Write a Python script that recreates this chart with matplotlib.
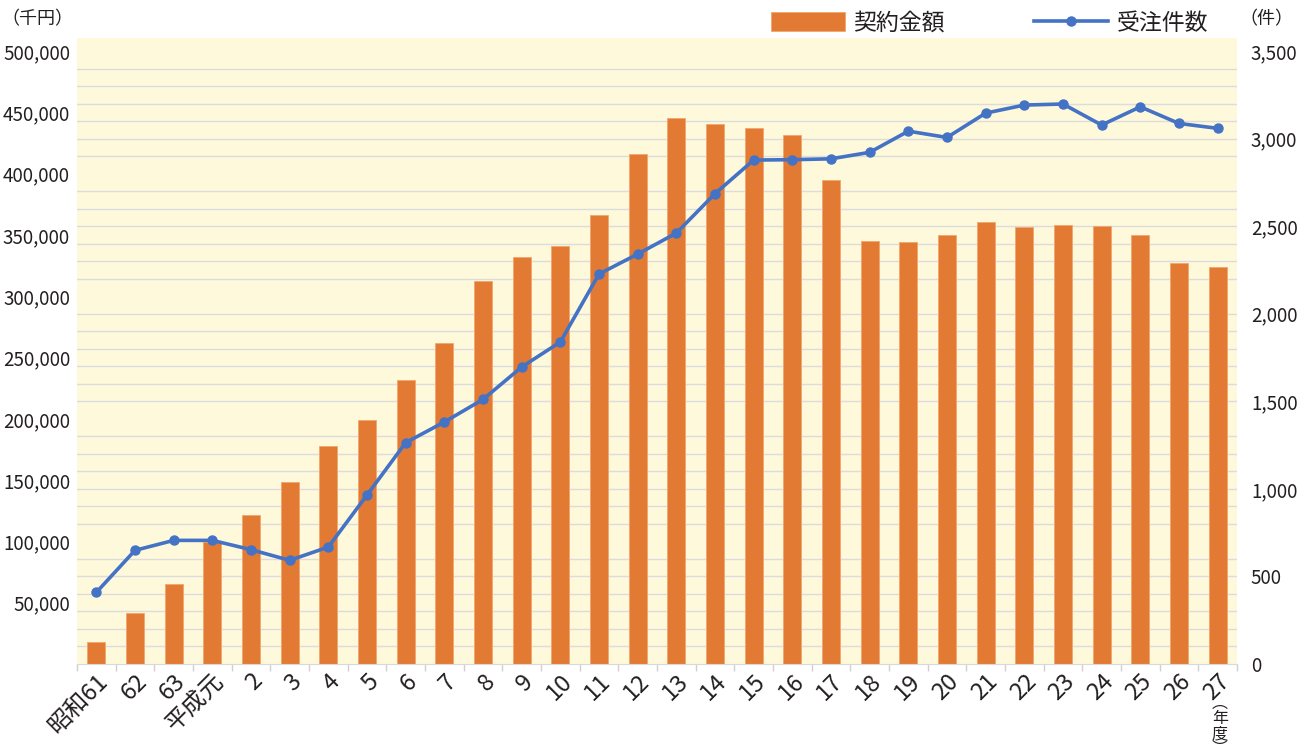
import numpy as np
import matplotlib
matplotlib.use("Agg")
import matplotlib.pyplot as plt
from matplotlib.ticker import FuncFormatter

plt.rcParams['font.family'] = ['Noto Sans CJK JP', 'DejaVu Sans']

years = ['昭和61', '62', '63', '平成元', '2', '3', '4', '5', '6', '7', '8', '9', '10',
         '11', '12', '13', '14', '15', '16', '17', '18', '19', '20', '21', '22', '23',
         '24', '25', '26', '27']
# 契約金額 (千円)
amounts = [17700, 41600, 65300, 99300, 121500, 148700, 178100, 199300, 231700, 261600,
           312700, 332000, 340700, 366200, 415700, 445400, 440500, 437500, 431500, 394500,
           345000, 344000, 349900, 360300, 356700, 358300, 357500, 350200, 326800, 323800]
# 受注件数 (件)
orders = [409, 649, 706, 706, 653, 592, 668, 965, 1264, 1382, 1511, 1696, 1839, 2227,
          2341, 2461, 2686, 2878, 2880, 2885, 2922, 3043, 3007, 3146, 3192, 3198, 3078,
          3182, 3087, 3059]

W, H = 1306, 756
TXT = '#231F20'
fig = plt.figure(figsize=(W / 100, H / 100), dpi=100)
ax = fig.add_axes([77 / W, 1 - 664 / H, (1237 - 77) / W, (664 - 38) / H])
ax.set_facecolor('#FEF9DA')

x = np.arange(len(years))
bars = ax.bar(x, amounts, width=0.47, color='#E27A33', edgecolor='#F2A66E',
              linewidth=0.6, zorder=2, label='契約金額')

ytop = 3575
ax.set_ylim(0, ytop * 500000 / 3500)
ax.set_xlim(-0.5, len(years) - 0.5)
ax.set_yticks(np.arange(50000, 500001, 50000))
ax.yaxis.set_major_formatter(FuncFormatter(lambda v, p: f'{int(v):,}'))
ax.set_yticks(np.arange(1, 36) * 500000 / 35, minor=True)
ax.grid(which='minor', axis='y', color='#DCDCDC', linewidth=1.0, zorder=0)
ax.tick_params(axis='y', which='both', length=0, labelsize=13.5, labelcolor=TXT, pad=5)

ax.set_xticks(x)
ax.set_xticklabels(years, rotation=45, ha='right', rotation_mode='anchor',
                   fontsize=17, color=TXT)
ax.set_xticks(np.arange(-0.5, len(years)), minor=True)
ax.tick_params(axis='x', which='major', length=0, pad=4)
ax.tick_params(axis='x', which='minor', length=5, color='#D0D0D0', width=1)
for s in ['top', 'left', 'right']:
    ax.spines[s].set_visible(False)
ax.spines['bottom'].set_color('#D9D9D9')

ax2 = ax.twinx()
line, = ax2.plot(x, orders, color='#4472C4', linewidth=2.6, marker='o',
                 markersize=6.5, zorder=3, label='受注件数')
ax2.set_ylim(0, ytop)
ax2.set_yticks(np.arange(0, 3501, 500))
ax2.yaxis.set_major_formatter(FuncFormatter(lambda v, p: f'{int(v):,}'))
ax2.tick_params(axis='y', length=0, labelsize=13.5, labelcolor=TXT, pad=10)
for s in ax2.spines.values():
    s.set_visible(False)

fig.legend(handles=[bars, line], labels=['契約金額', '受注件数'], ncol=2,
           loc='upper left', bbox_to_anchor=(750 / W, 1.012), frameon=False,
           fontsize=16.5, handlelength=3.25, handleheight=0.85, handletextpad=0.35,
           columnspacing=3.9, labelcolor=TXT)

fig.text(37 / W, 1 - 19 / H, '（千円）', ha='center', va='center', fontsize=13, color=TXT)
fig.text(1266 / W, 1 - 19 / H, '（件）', ha='center', va='center', fontsize=13, color=TXT)
fig.text(1220 / W, 1 - 726 / H, '︵\n年\n度\n︶', ha='center', va='center',
         fontsize=11.5, linespacing=0.85, color=TXT)

fig.savefig('out.png', dpi=100, facecolor='white')
